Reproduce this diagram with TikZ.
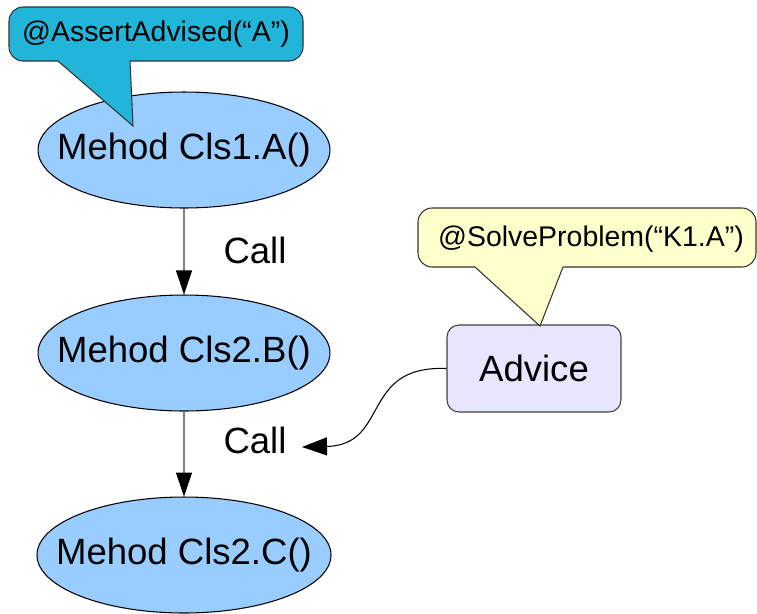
\documentclass[tikz,border=0pt]{standalone}
\usepackage{fontspec}
\setmainfont{Liberation Sans}
\usetikzlibrary{shapes.geometric,arrows.meta}
\definecolor{methodblue}{HTML}{99CCFF}
\definecolor{tagcyan}{HTML}{22B5DA}
\definecolor{tagyellow}{HTML}{FFFFCC}
\definecolor{advlilac}{HTML}{E6E6FF}

\begin{document}
\begin{tikzpicture}[x=0.02cm, y=-0.02cm,
    bigtext/.style={font=\fontsize{20.8}{25}\selectfont},
    method/.style={ellipse, draw, line width=0.6pt, fill=methodblue,
      minimum width=5.84cm, minimum height=2.32cm, inner xsep=-0.48cm, inner ysep=0pt, bigtext},
    advice/.style={rectangle, rounded corners=0.24cm, draw=black!75, line width=0.6pt,
      fill=advlilac, minimum width=3.48cm, minimum height=1.74cm, bigtext},
    tag/.style={font=\fontsize{16.2}{19}\selectfont},
    tagbody/.style={draw=black!80, line width=0.6pt, rounded corners=8},
    call/.style={draw=gray, line width=0.6pt,
      -{Triangle[length=0.48cm, width=0.32cm, color=black]}},
    advcall/.style={draw=black, line width=0.6pt,
      -{Triangle[length=0.5cm, width=0.36cm]}}]
   \useasboundingbox (0,0) rectangle (757,613);

   \node[method] (mA) at (184,150) {Mehod Cls1.A()};
   \node[method] (mB) at (184,353) {Mehod Cls2.B()};
   \node[method] (mC) at (184,555) {Mehod Cls2.C()};
   \node[advice] (adv) at (534,368.5) {Advice};

   \draw[call] (mA) -- (mB);
   \draw[call] (mB) -- (mC);
   \node[bigtext] (callAB) at (255,250) {Call};
   \node[bigtext] (callBC) at (255,440) {Call};

   \coordinate (callin) at (302,447);
   \draw[advcall] (adv.west) .. controls (360,365) and (390,445) .. (callin);

   % tag on Cls1.A
   \filldraw[tagbody, fill=tagcyan] (9,7) rectangle (303,61);
   \fill[tagcyan] (58,55) -- (58,61) -- (133,126) -- (130,61) -- (130,55) -- cycle;
   \draw[draw=black!80, line width=0.6pt] (58,61) -- (133,126) -- (130,61);
   \node[tag] (tagA) at (156,34) {@AssertAdvised(“A”)};

   % tag on the advice
   \filldraw[tagbody, fill=tagyellow] (418,208) rectangle (756,267);
   \fill[tagyellow] (475,261) -- (475,267) -- (540,326) -- (563,267) -- (563,261) -- cycle;
   \draw[draw=black!80, line width=0.6pt] (475,267) -- (540,326) -- (563,267);
   \node[tag] (tagadv) at (591,239) {@SolveProblem(“K1.A”)};
 \end{tikzpicture}
\end{document}
